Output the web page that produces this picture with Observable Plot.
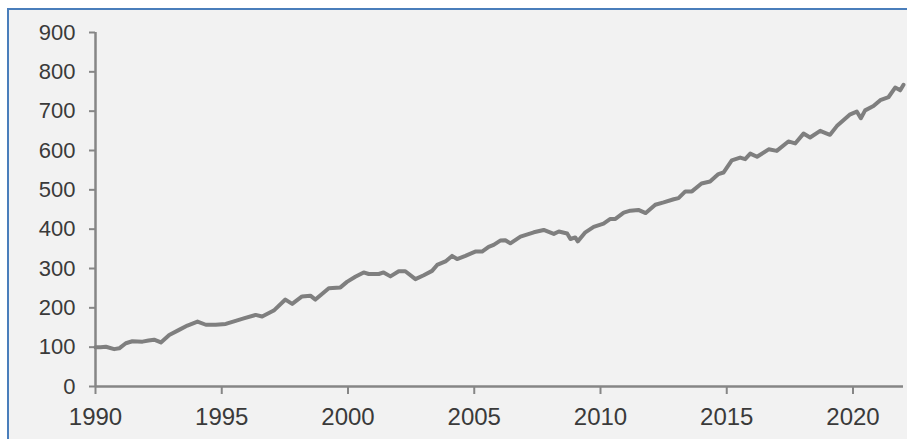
<!DOCTYPE html>
<html>
<head>
<meta charset="utf-8">
<script src="https://cdn.jsdelivr.net/npm/d3@7"></script>
<script src="https://cdn.jsdelivr.net/npm/@observablehq/plot@0.6"></script>
<style>
  html, body { margin: 0; padding: 0; background: #ffffff; width: 907px; height: 439px; overflow: hidden; }
  #frame { position: absolute; left: 7px; top: 8px; width: 920px; height: 450px; background: #f2f2f2;
           border-left: 2px solid #4a7ebb; border-top: 2px solid #4a7ebb; }
  #chart { position: absolute; left: 0; top: 0; }
  #chart svg { background: transparent; }
</style>
</head>
<body>
<div id="frame"></div>
<div id="chart"></div>
<script>
const years = [
  1990.00, 1990.20, 1990.41, 1990.74, 1990.94, 1991.20, 1991.46, 1991.86, 1992.10, 1992.32,
  1992.59, 1992.92, 1993.31, 1993.64, 1994.04, 1994.37, 1994.76, 1995.16, 1995.55, 1995.87,
  1996.34, 1996.60, 1997.06, 1997.52, 1997.79, 1998.18, 1998.51, 1998.71, 1999.24, 1999.70,
  1999.96, 2000.29, 2000.62, 2000.82, 2001.22, 2001.41, 2001.68, 2002.01, 2002.27, 2002.67,
  2003.00, 2003.33, 2003.53, 2003.86, 2004.12, 2004.32, 2004.65, 2005.04, 2005.31, 2005.57,
  2005.77, 2006.03, 2006.23, 2006.43, 2006.83, 2007.36, 2007.75, 2008.15, 2008.35, 2008.68,
  2008.81, 2009.00, 2009.10, 2009.40, 2009.73, 2010.12, 2010.39, 2010.59, 2010.92, 2011.18,
  2011.50, 2011.79, 2012.17, 2012.50, 2012.90, 2013.09, 2013.36, 2013.62, 2014.00, 2014.34,
  2014.67, 2014.87, 2015.20, 2015.53, 2015.73, 2015.93, 2016.20, 2016.66, 2016.98, 2017.44,
  2017.71, 2018.04, 2018.30, 2018.70, 2018.89, 2019.09, 2019.36, 2019.89, 2020.15, 2020.31,
  2020.48, 2020.81, 2021.08, 2021.41, 2021.67, 2021.87, 2022.00
];
const values = [
  100, 100, 101, 95, 97, 110, 115, 114, 117, 119,
  112, 131, 144, 155, 165, 157, 157, 159, 167, 173,
  182, 178, 193, 221, 210, 229, 231, 221, 250, 252,
  266, 279, 290, 286, 286, 290, 280, 293, 293, 273,
  283, 294, 309, 318, 332, 324, 332, 343, 343, 355,
  360, 371, 372, 364, 381, 392, 398, 388, 394, 389,
  375, 379, 369, 392, 406, 414, 426, 426, 442, 447,
  449, 441, 462, 468, 476, 479, 496, 496, 516, 521,
  540, 544, 575, 582, 578, 592, 584, 603, 599, 623,
  618, 643, 633, 650, 645, 640, 662, 692, 699, 682,
  702, 713, 728, 736, 760, 753, 767
];
const xTicks = [1990, 1995, 2000, 2005, 2010, 2015, 2020];
const yTicks = [0, 100, 200, 300, 400, 500, 600, 700, 800, 900];

const data = years.map((y, i) => ({year: y, value: values[i]}));
const axisColor = "#868686";

const chart = Plot.plot({
  width: 907,
  height: 439,
  marginLeft: 95,
  marginRight: 4,
  marginTop: 32,
  marginBottom: 53,
  style: {background: "transparent", fontFamily: "'Liberation Sans', Arial, sans-serif", color: "#3a3a3a"},
  x: {domain: [1990, 2022]},
  y: {domain: [0, 900]},
  marks: [
    Plot.axisY({ticks: yTicks, tickSize: 6, tickPadding: 14, stroke: axisColor, strokeWidth: 2,
                fontSize: 22, fill: "#3a3a3a", label: null, strokeOpacity: 1}),
    Plot.axisX({ticks: xTicks, tickSize: 8, tickPadding: 13, stroke: axisColor, strokeWidth: 2,
                fontSize: 24, fill: "#3a3a3a", label: null, tickFormat: d3.format("d"), strokeOpacity: 1}),
    Plot.ruleX([1990], {stroke: axisColor, strokeWidth: 2.5}),
    Plot.ruleY([0], {stroke: axisColor, strokeWidth: 2.5}),
    Plot.line(data, {x: "year", y: "value", stroke: "#7f7f7f", strokeWidth: 4, strokeLinejoin: "round"})
  ]
});
document.getElementById("chart").appendChild(chart);
</script>
</body>
</html>
